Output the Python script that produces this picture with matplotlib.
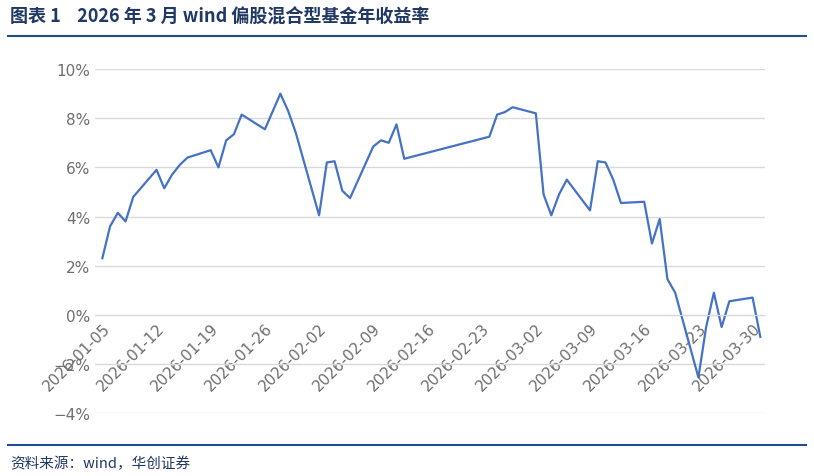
import matplotlib
matplotlib.use("Agg")
import matplotlib.pyplot as plt
import pandas as pd

plt.rcParams['font.family'] = ['Noto Sans CJK SC', 'DejaVu Sans']

dates = ["2026-01-05","2026-01-06","2026-01-07","2026-01-08","2026-01-09",
         "2026-01-12","2026-01-13","2026-01-14","2026-01-15","2026-01-16",
         "2026-01-19","2026-01-20","2026-01-21","2026-01-22","2026-01-23",
         "2026-01-26","2026-01-28","2026-01-29","2026-01-30","2026-02-02",
         "2026-02-03","2026-02-04","2026-02-05","2026-02-06",
         "2026-02-09","2026-02-10","2026-02-11","2026-02-12","2026-02-13",
         "2026-02-24","2026-02-25","2026-02-26","2026-02-27",
         "2026-03-02","2026-03-03","2026-03-04","2026-03-05","2026-03-06",
         "2026-03-09","2026-03-10","2026-03-11","2026-03-12","2026-03-13",
         "2026-03-16","2026-03-17","2026-03-18","2026-03-19","2026-03-20",
         "2026-03-23","2026-03-24","2026-03-25","2026-03-26","2026-03-27",
         "2026-03-30","2026-03-31"]
returns = [2.3,3.6,4.15,3.8,4.8,
           5.9,5.15,5.7,6.1,6.4,
           6.7,6.0,7.1,7.35,8.15,
           7.55,9.0,8.3,7.4,4.05,
           6.2,6.25,5.05,4.75,
           6.85,7.1,7.0,7.75,6.35,
           7.25,8.15,8.25,8.45,
           8.2,4.9,4.05,4.9,5.5,
           4.25,6.25,6.2,5.5,4.55,
           4.6,2.9,3.9,1.45,0.9,
           -2.55,-0.5,0.9,-0.5,0.55,
           0.7,-0.9]
tick_dates = ["2026-01-05","2026-01-12","2026-01-19","2026-01-26","2026-02-02",
              "2026-02-09","2026-02-16","2026-02-23","2026-03-02","2026-03-09",
              "2026-03-16","2026-03-23","2026-03-30"]

x = pd.to_datetime(dates)
xt = pd.to_datetime(tick_dates)

fig = plt.figure(figsize=(8.14, 4.77), dpi=100)
ax = fig.add_axes([0.117, 0.132, 0.823, 0.721])
ax.plot(x, returns, color='#4472C4', lw=1.6)
ax.set_ylim(-4, 10)
ax.set_xlim(x[0] - pd.Timedelta(hours=22), x[-1] + pd.Timedelta(hours=15))
ax.set_yticks(range(-4, 11, 2))
ax.set_yticklabels([f"{v}%" if v >= 0 else f"\u2212{-v}%" for v in range(-4, 11, 2)],
                   family=['DejaVu Sans'])
ax.yaxis.grid(True, color='#D9D9D9', lw=1)
ax.set_axisbelow(True)
for s in ['top', 'right', 'left']:
    ax.spines[s].set_visible(False)
ax.spines['bottom'].set_position(('data', 0))
ax.spines['bottom'].set_color('#D9D9D9')
ax.set_xticks(xt)
ax.set_xticklabels(tick_dates, rotation=45, ha='right',
                   rotation_mode='anchor', family=['DejaVu Sans'])
ax.tick_params(axis='both', colors='#6E6E6E', labelsize=11, length=0)
ax.tick_params(axis='x', pad=4)

fig.text(0.012, 0.965, "图表 1    2026 年 3 月 wind 偏股混合型基金年收益率",
         fontsize=13, fontweight='bold', color='#1F3864', va='center')
fig.add_artist(plt.Line2D([0.01, 0.99], [0.922, 0.922], color='#1F4E8C', lw=1.5))
fig.add_artist(plt.Line2D([0.01, 0.99], [0.065, 0.065], color='#1F4E8C', lw=1.5))
fig.text(0.012, 0.028, "资料来源：wind，华创证券", fontsize=10.5, style='italic',
         color='#1F3864', va='center')
fig.savefig("out.png", dpi=100)
